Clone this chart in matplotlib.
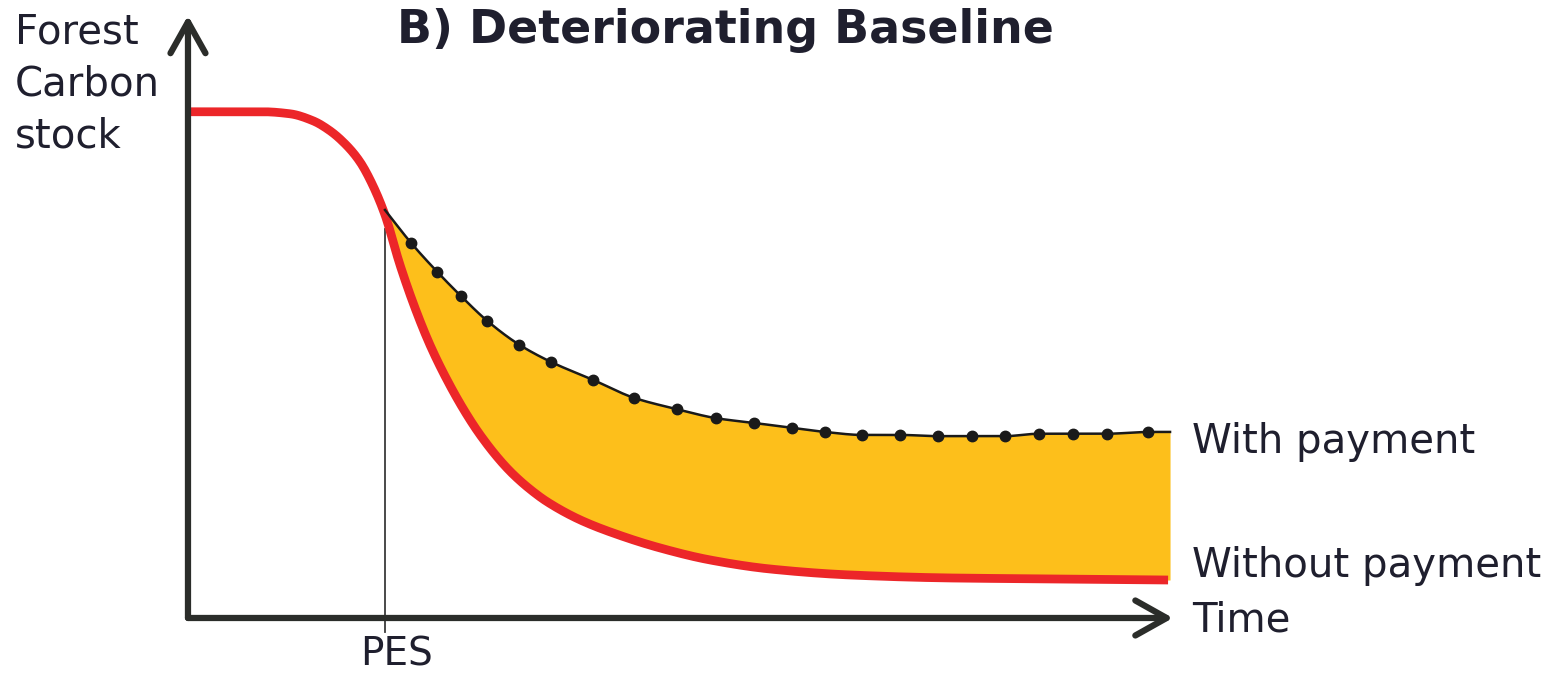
import numpy as np
import matplotlib
matplotlib.use('Agg')
import matplotlib.pyplot as plt

# red curve: carbon stock without payment
t_without = [0.0, 0.765, 1.041, 1.276, 1.449, 1.622, 1.755, 1.878, 2.010, 2.163, 2.316,
             2.469, 2.643, 2.827, 2.980, 3.184, 3.316, 3.490, 3.663, 4.000, 4.337,
             4.816, 5.327, 5.939, 6.755, 7.776, 8.898, 10.0]
c_without = [8.462, 8.462, 8.428, 8.311, 8.144, 7.893, 7.625, 7.258, 6.739, 5.903, 5.184,
             4.565, 3.980, 3.446, 3.063, 2.635, 2.404, 2.152, 1.944, 1.641, 1.421,
             1.171, 0.970, 0.819, 0.719, 0.669, 0.652, 0.635]

# black dotted curve: carbon stock with payment (starts at PES)
t_with = [2.01, 2.276, 2.541, 2.786, 3.051, 3.378, 3.704, 4.133, 4.551, 4.99, 5.388,
          5.776, 6.163, 6.5, 6.878, 7.265, 7.653, 8.0, 8.337, 8.684, 9.03, 9.378, 9.796, 10.02]
c_with = [6.82, 6.27, 5.79, 5.38, 4.97, 4.57, 4.28, 3.98, 3.68, 3.49, 3.34,
          3.26, 3.18, 3.11, 3.06, 3.06, 3.04, 3.04, 3.04, 3.08, 3.08, 3.08, 3.11, 3.11]

t_pes = 2.01

red = '#ec2629'
yellow = '#fdbf1b'
dark = '#2b2d2a'
navy = '#1f1f2e'


def pchip(x, y, xs):
    # monotone cubic through the read points, only for a smooth drawn line
    x = np.asarray(x, float)
    y = np.asarray(y, float)
    h = np.diff(x)
    d = np.diff(y) / h
    m = np.zeros_like(y)
    m[0], m[-1] = d[0], d[-1]
    for k in range(1, len(x) - 1):
        if d[k - 1] * d[k] > 0:
            w1 = 2 * h[k] + h[k - 1]
            w2 = h[k] + 2 * h[k - 1]
            m[k] = (w1 + w2) / (w1 / d[k - 1] + w2 / d[k])
    i = np.clip(np.searchsorted(x, xs) - 1, 0, len(x) - 2)
    s = (xs - x[i]) / h[i]
    h00 = 2 * s ** 3 - 3 * s ** 2 + 1
    h10 = s ** 3 - 2 * s ** 2 + s
    h01 = -2 * s ** 3 + 3 * s ** 2
    h11 = s ** 3 - s ** 2
    return h00 * y[i] + h10 * h[i] * m[i] + h01 * y[i + 1] + h11 * h[i] * m[i + 1]


fig = plt.figure(figsize=(15.66, 6.75), dpi=100)
ax = fig.add_axes([0, 0, 1, 1])
ax.set_xlim(-1.918, 14.06)
ax.set_ylim(-0.953, 10.33)
ax.axis('off')

rx = np.linspace(t_without[0], t_without[-1], 600)
ry = pchip(t_without, c_without, rx)
bx = np.linspace(t_with[0], t_with[-1], 500)
by = pchip(t_with, c_with, bx)

# shaded gain
ax.fill_between(bx, pchip(t_without, c_without, bx), by, color=yellow, lw=0, zorder=1)

# PES marker line
ax.plot([t_pes, t_pes], [-0.23, 6.5], color='#3a3a3a', lw=1.3, zorder=2)

ax.plot(rx, ry, color=red, lw=6.3, solid_capstyle='butt', zorder=3)
ax.plot(bx, by, color='#1a1a1a', lw=1.8, zorder=4)
ax.plot(t_with[1:-1], c_with[1:-1], 'o', color='#1a1a1a', ms=7.5, zorder=5)

# axes with arrows
arr = dict(arrowstyle='->,head_length=0.75,head_width=0.42', color=dark, lw=4.5,
           shrinkA=0, shrinkB=0, mutation_scale=30)
ax.annotate('', xy=(0, 10.07), xytext=(0, 0), arrowprops=arr, zorder=6)
ax.annotate('', xy=(10.05, 0), xytext=(0, 0), arrowprops=arr, zorder=6)

fs = 29
ax.text(-1.765, 10.12, 'Forest\nCarbon\nstock', fontsize=fs, color=navy, va='top', ha='left',
        linespacing=1.38)
ax.text(10.245, 2.76, 'With payment', fontsize=fs, color=navy, va='baseline', ha='left')
ax.text(10.245, 0.686, 'Without payment', fontsize=fs, color=navy, va='baseline', ha='left')
ax.text(10.245, -0.234, 'Time', fontsize=fs, color=navy, va='baseline', ha='left')
ax.text(2.13, -0.80, 'PES', fontsize=28, color=navy, va='baseline', ha='center')
ax.text(5.48, 9.615, 'B) Deteriorating Baseline', fontsize=33, fontweight='bold',
        color=navy, va='baseline', ha='center')

fig.savefig('out.png', dpi=100)
